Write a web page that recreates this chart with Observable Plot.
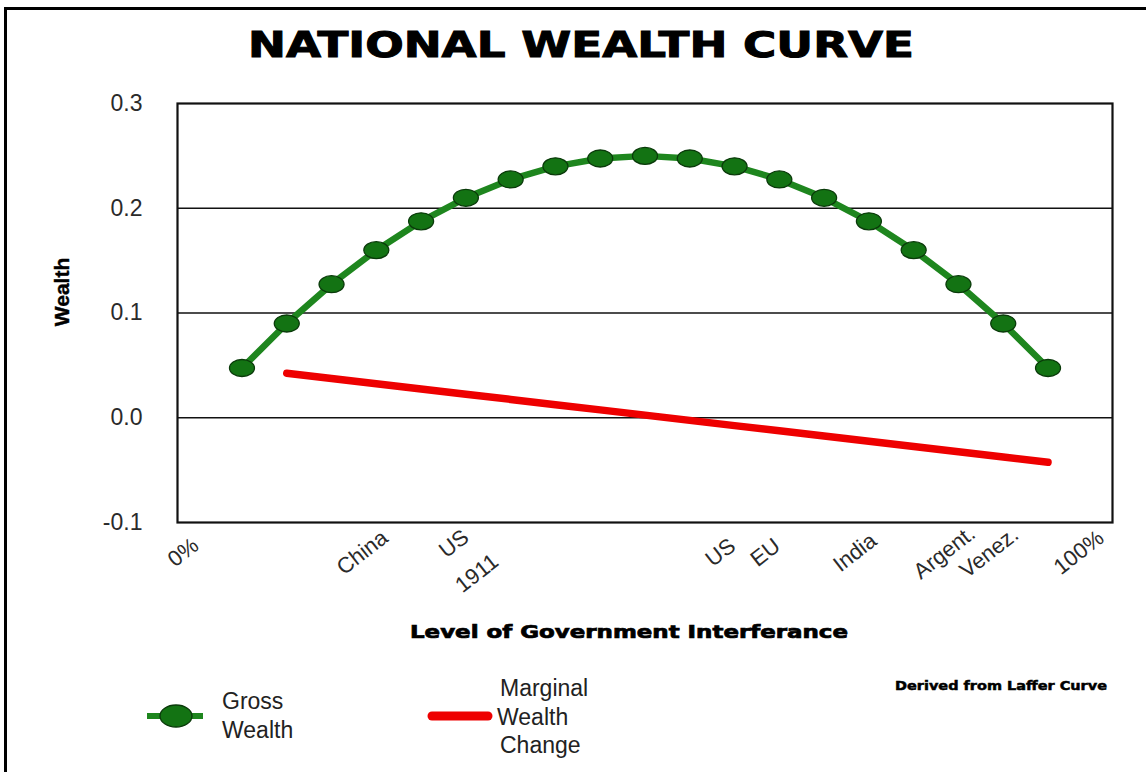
<!DOCTYPE html>
<html>
<head>
<meta charset="utf-8">
<script src="https://cdn.jsdelivr.net/npm/d3@7"></script>
<script src="https://cdn.jsdelivr.net/npm/@observablehq/plot@0.6"></script>
<style>
  html, body { margin: 0; padding: 0; background: #fff; }
  #page { position: relative; width: 1146px; height: 772px; overflow: hidden; background: #fff; font-family: "Liberation Sans", Arial, sans-serif; }
  #border { position: absolute; left: 4px; top: 7px; width: 1200px; height: 800px; border-left: 3px solid #000; border-top: 3px solid #000; }
  #title, #bottom { position: absolute; left: 0; }
  #title { top: 0; }
  #chart { position: absolute; left: 0; top: 80px; }
  #bottom { top: 620px; }
</style>
</head>
<body>
<div id="page">
  <div id="border"></div>
  <svg id="title" width="1146" height="80">
    <text x="248" y="57" font-family="DejaVu Sans" font-weight="bold" font-size="35" fill="#000" stroke="#000" stroke-width="1" textLength="666" lengthAdjust="spacingAndGlyphs">NATIONAL WEALTH CURVE</text>
  </svg>
  <div id="chart"></div>
  <svg id="bottom" width="1146" height="152"></svg>
</div>
<script>
// ---- data ----
const levels = ["0%","5%","10%","15%","20%","25%","30%","35%","40%","45%","50%","55%","60%","65%","70%","75%","80%","85%","90%","95%","100%"];
const grossLevels = ["5%","10%","15%","20%","25%","30%","35%","40%","45%","50%","55%","60%","65%","70%","75%","80%","85%","90%","95%"];
const grossValues = [0.0475, 0.09, 0.1275, 0.16, 0.1875, 0.21, 0.2275, 0.24, 0.2475, 0.25, 0.2475, 0.24, 0.2275, 0.21, 0.1875, 0.16, 0.1275, 0.09, 0.0475];
const marginalLevels = ["10%","15%","20%","25%","30%","35%","40%","45%","50%","55%","60%","65%","70%","75%","80%","85%","90%","95%"];
const marginalValues = [0.0425, 0.0375, 0.0325, 0.0275, 0.0225, 0.0175, 0.0125, 0.0075, 0.0025, -0.0025, -0.0075, -0.0125, -0.0175, -0.0225, -0.0275, -0.0325, -0.0375, -0.0425];
const tickLevels = ["0%","20%","60%","65%","75%","85%","90%","100%"];
const tickLabels = ["0%","China","US","EU","India","Argent.","Venez.","100%"];
const multiTickLevels = ["30%"];
const multiTickLabels = ["US\n1911"];
const yTicks = [-0.1, 0, 0.1, 0.2, 0.3];
const gridValues = [0, 0.1, 0.2];

const gross = grossLevels.map((l, i) => ({level: l, value: grossValues[i]}));
const marginal = marginalLevels.map((l, i) => ({level: l, value: marginalValues[i]}));
const ticks = tickLevels.map((l, i) => ({level: l, label: tickLabels[i]}));
const multiTicks = multiTickLevels.map((l, i) => ({level: l, label: multiTickLabels[i]}));

const greenLine = "#1e861e";
const greenDot = "#137313";
const redLine = "#ee0000";

const ellipse = {
  draw(ctx) {
    const rx = 12.5, ry = 8.5, k = 0.5523;
    ctx.moveTo(rx, 0);
    ctx.bezierCurveTo(rx, ry * k, rx * k, ry, 0, ry);
    ctx.bezierCurveTo(-rx * k, ry, -rx, ry * k, -rx, 0);
    ctx.bezierCurveTo(-rx, -ry * k, -rx * k, -ry, 0, -ry);
    ctx.bezierCurveTo(rx * k, -ry, rx, -ry * k, rx, 0);
    ctx.closePath();
  }
};

const chart = Plot.plot({
  width: 1146,
  height: 540,
  marginLeft: 177,
  marginRight: 34,
  marginTop: 23,
  marginBottom: 98,
  style: {fontFamily: "'Liberation Sans', Arial, sans-serif", background: "transparent", color: "#222"},
  x: {type: "point", domain: levels, padding: 0.44, round: false, axis: null},
  y: {domain: [-0.1, 0.3], axis: null},
  marks: [
    Plot.ruleY(gridValues, {stroke: "#111", strokeWidth: 1.5}),
    Plot.frame({stroke: "#111", strokeWidth: 2.2}),
    Plot.axisY({ticks: yTicks, tickSize: 0, tickPadding: 35, tickFormat: d => d.toFixed(1), fontSize: 23, fill: "#2a2a2a", label: null}),
    Plot.text(["Wealth"], {frameAnchor: "left", dx: -115, dy: -21, rotate: -90, fontSize: 21, fontWeight: "bold", fill: "#000", stroke: "#000", strokeWidth: 0.4, textAnchor: "middle", lineAnchor: "middle"}),
    Plot.text(ticks, {x: "level", text: "label", frameAnchor: "bottom", dx: -14, dy: 30, rotate: -38, fontSize: 22, fill: "#2a2a2a", textAnchor: "middle", lineAnchor: "middle"}),
    Plot.text(multiTicks, {x: "level", text: "label", frameAnchor: "bottom", dx: -24, dy: 6, rotate: -38, fontSize: 22, lineHeight: 1.7, fill: "#2a2a2a", textAnchor: "middle", lineAnchor: "top"}),
    Plot.line(marginal, {x: "level", y: "value", stroke: redLine, strokeWidth: 7.5, strokeLinecap: "round"}),
    Plot.line(gross, {x: "level", y: "value", stroke: greenLine, strokeWidth: 6.5}),
    Plot.dot(gross, {x: "level", y: "value", symbol: ellipse, fill: greenDot, stroke: "#0a3a0a", strokeWidth: 1.3})
  ]
});
document.getElementById("chart").appendChild(chart);

// ---- below the chart: axis title, legend, source note ----
const bottom = d3.select("#bottom");
bottom.append("text")
  .attr("x", 410).attr("y", 18)
  .attr("font-family", "DejaVu Sans").attr("font-weight", "bold").attr("font-size", 17)
  .attr("fill", "#000").attr("stroke", "#000").attr("stroke-width", 0.7)
  .attr("textLength", 438).attr("lengthAdjust", "spacingAndGlyphs")
  .text("Level of Government Interferance");
bottom.append("text")
  .attr("x", 895).attr("y", 70)
  .attr("font-family", "DejaVu Sans").attr("font-weight", "bold").attr("font-size", 12.5)
  .attr("fill", "#000").attr("stroke", "#000").attr("stroke-width", 0.5)
  .attr("textLength", 212).attr("lengthAdjust", "spacingAndGlyphs")
  .text("Derived from Laffer Curve");

// legend: Gross Wealth
bottom.append("line").attr("x1", 147).attr("x2", 203).attr("y1", 96).attr("y2", 96)
  .attr("stroke", greenLine).attr("stroke-width", 6);
bottom.append("ellipse").attr("cx", 176).attr("cy", 96).attr("rx", 16).attr("ry", 11)
  .attr("fill", greenDot).attr("stroke", "#0a3a0a").attr("stroke-width", 1.3);
const gLabel = bottom.append("text").attr("font-family", "'Liberation Sans', Arial, sans-serif").attr("font-size", 23).attr("fill", "#222");
gLabel.append("tspan").attr("x", 222).attr("y", 89).text("Gross");
gLabel.append("tspan").attr("x", 222).attr("y", 118).text("Wealth");

// legend: Marginal Wealth Change
bottom.append("line").attr("x1", 432).attr("x2", 488).attr("y1", 96).attr("y2", 96)
  .attr("stroke", redLine).attr("stroke-width", 9).attr("stroke-linecap", "round");
const mLabel = bottom.append("text").attr("font-family", "'Liberation Sans', Arial, sans-serif").attr("font-size", 23).attr("fill", "#222");
mLabel.append("tspan").attr("x", 500).attr("y", 76).text("Marginal");
mLabel.append("tspan").attr("x", 497).attr("y", 105).text("Wealth");
mLabel.append("tspan").attr("x", 500).attr("y", 133).text("Change");
</script>
</body>
</html>
